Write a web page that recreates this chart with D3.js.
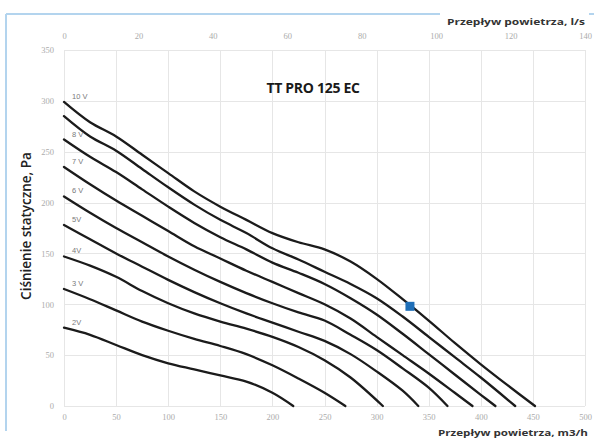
<!DOCTYPE html>
<html>
<head>
<meta charset="utf-8">
<script src="https://cdn.jsdelivr.net/npm/d3@7"></script>
<style>
  html, body { margin: 0; padding: 0; background: #fff; }
  svg { display: block; }
</style>
</head>
<body>
<svg id="chart" width="594" height="439"></svg>
<script>
// ---------- DATA ----------
const title = "TT PRO 125 EC";
const yTitle = "Ciśnienie statyczne, Pa";
const xTitleBottom = "Przepływ powietrza, m3/h";
const xTitleTop = "Przepływ powietrza, l/s";

const flowTicksM3h = [0, 50, 100, 150, 200, 250, 300, 350, 400, 450, 500];
const flowTicksLs = [0, 20, 40, 60, 80, 100, 120, 140];
const pressureTicks = [0, 50, 100, 150, 200, 250, 300, 350];

const voltageLabels = ["10 V", "9 V", "8 V", "7 V", "6 V", "5V", "4V", "3 V", "2V"];
const showLabel = [true, false, true, true, true, true, true, true, true];

// [m3/h, Pa]
const curve10V = [[0,299],[25,279],[50,265],[75,247],[100,229],[125,211],[150,196],[175,183],[200,170],[225,161],[250,154],[275,142],[300,125],[325,105],[350,84],[375,62],[400,41],[425,21],[452,0]];
const curve9V = [[0,285],[25,265],[50,251],[75,233],[100,215],[125,198],[150,183],[175,170],[200,155],[225,144],[250,132],[275,120],[300,106],[325,88],[350,68],[375,48],[400,28],[433,0]];
const curve8V = [[0,262],[25,245],[50,230],[75,213],[100,196],[125,180],[150,166],[175,154],[200,141],[225,131],[250,120],[275,106],[300,90],[325,71],[350,51],[375,31],[400,11],[414,0]];
const curve7V = [[0,235],[25,218],[50,202],[75,187],[100,172],[125,157],[150,145],[175,133],[200,122],[225,111],[250,100],[275,86],[300,68],[325,50],[350,32],[375,13],[392,0]];
const curve6V = [[0,206],[25,190],[50,175],[75,161],[100,147],[125,134],[150,122],[175,111],[200,101],[225,92],[250,84],[275,70],[300,55],[325,37],[350,18],[368,0]];
const curve5V = [[0,178],[25,164],[50,150],[75,137],[100,124],[125,112],[150,101],[175,91],[200,82],[225,73],[250,64],[275,51],[300,34],[325,15],[340,0]];
const curve4V = [[0,147],[25,138],[50,127],[75,113],[100,101],[125,91],[150,83],[175,76],[200,68],[225,58],[250,45],[275,28],[306,0]];
const curve3V = [[0,115],[25,105],[50,94],[75,83],[100,74],[125,66],[150,59],[175,51],[200,40],[225,27],[250,13],[270,0]];
const curve2V = [[0,77],[25,70],[50,60],[75,50],[100,42],[125,36],[150,30],[175,24],[200,13],[220,0]];

const curves = [curve10V, curve9V, curve8V, curve7V, curve6V, curve5V, curve4V, curve3V, curve2V];

const workPoint = [332, 98]; // [m3/h, Pa]

// ---------- LAYOUT ----------
const svg = d3.select("#chart");
const W = 594, H = 439;
const plot = { left: 64, right: 585, top: 50, bottom: 406 };

svg.append("rect").attr("width", W).attr("height", H).attr("fill", "#fff");

const x = d3.scaleLinear().domain([0, 500]).range([plot.left, plot.right]);
const xTop = d3.scaleLinear().domain([0, 140]).range([plot.left, plot.right]);
const y = d3.scaleLinear().domain([0, 350]).range([plot.bottom, plot.top]);

// frame (left + top, light blue)
const frameColor = "#b3d4ee";
svg.append("line").attr("x1", 6).attr("x2", 6).attr("y1", 14).attr("y2", 431)
  .attr("stroke", frameColor).attr("stroke-width", 2);
svg.append("line").attr("x1", 6).attr("x2", 594).attr("y1", 14).attr("y2", 14)
  .attr("stroke", frameColor).attr("stroke-width", 2);

// gridlines
const grid = svg.append("g").attr("stroke", "#e6e6e6").attr("stroke-width", 1);
grid.selectAll("line.h").data(pressureTicks).join("line")
  .attr("x1", plot.left).attr("x2", plot.right)
  .attr("y1", d => Math.round(y(d)) + 0.5).attr("y2", d => Math.round(y(d)) + 0.5);
grid.selectAll("line.v").data(flowTicksM3h).join("line")
  .attr("y1", plot.top).attr("y2", plot.bottom)
  .attr("x1", d => Math.round(x(d)) + 0.5).attr("x2", d => Math.round(x(d)) + 0.5);

// axes (labels only, faint)
const tickStyle = g => {
  g.select(".domain").remove();
  g.selectAll(".tick line").remove();
  g.selectAll(".tick text")
    .attr("fill", "#ababab")
    .attr("font-family", "'Liberation Serif', serif")
    .attr("font-size", 8.5);
};
svg.append("g").attr("transform", `translate(0,${plot.bottom + 6})`)
  .call(d3.axisBottom(x).tickValues(flowTicksM3h).tickSize(0).tickPadding(2))
  .call(tickStyle);
svg.append("g").attr("transform", `translate(0,${plot.top - 9})`)
  .call(d3.axisTop(xTop).tickValues(flowTicksLs).tickSize(0).tickPadding(2))
  .call(tickStyle);
svg.append("g").attr("transform", `translate(${plot.left - 8},0)`)
  .call(d3.axisLeft(y).tickValues(pressureTicks).tickSize(0).tickPadding(2))
  .call(tickStyle);

// curves
const line = d3.line().x(d => x(d[0])).y(d => y(d[1])).curve(d3.curveCatmullRom.alpha(0.5));
svg.append("g").selectAll("path").data(curves).join("path")
  .attr("d", line)
  .attr("fill", "none")
  .attr("stroke", "#1b1b1b")
  .attr("stroke-width", 2.3)
  .attr("stroke-linecap", "round")
  .attr("stroke-linejoin", "round");

// curve labels
svg.append("g").selectAll("text").data(curves.map((c, i) => ({ c, i })).filter(d => showLabel[d.i])).join("text")
  .attr("x", x(0) + 8)
  .attr("y", d => y(d.c[0][1]) - 3)
  .attr("fill", "#7a7a7a")
  .attr("font-family", "'Liberation Sans', sans-serif")
  .attr("font-size", 7.5)
  .text(d => voltageLabels[d.i]);

// work point
svg.append("rect")
  .attr("x", x(workPoint[0]) - 4.5).attr("y", y(workPoint[1]) - 4.5)
  .attr("width", 9).attr("height", 9)
  .attr("fill", "#1f6fb8");

// title
svg.append("text").attr("x", 313).attr("y", 93)
  .attr("text-anchor", "middle")
  .attr("font-family", "'Open Sans', sans-serif").attr("font-weight", 700)
  .attr("font-size", 14).attr("fill", "#1a1a1a")
  .attr("letter-spacing", -0.3)
  .text(title);

// y title
svg.append("text")
  .attr("transform", "translate(31,226) rotate(-90)")
  .attr("text-anchor", "middle")
  .attr("font-family", "'Open Sans', sans-serif").attr("font-weight", 600)
  .attr("font-size", 13.5).attr("fill", "#222")
  .text(yTitle);

// top x title (on white behind, breaking the frame)
svg.append("rect").attr("x", 440).attr("y", 8).attr("width", 149).attr("height", 22).attr("fill", "#fff");
svg.append("text").attr("x", 447).attr("y", 25)
  .attr("font-family", "'Open Sans', sans-serif").attr("font-weight", 700)
  .attr("font-size", 9.5).attr("fill", "#333")
  .attr("textLength", 138).attr("lengthAdjust", "spacingAndGlyphs")
  .text(xTitleTop);

// bottom x title
svg.append("text").attr("x", 438).attr("y", 436)
  .attr("font-family", "'Open Sans', sans-serif").attr("font-weight", 700)
  .attr("font-size", 9.5).attr("fill", "#333")
  .attr("textLength", 150).attr("lengthAdjust", "spacingAndGlyphs")
  .text(xTitleBottom);
</script>
</body>
</html>
